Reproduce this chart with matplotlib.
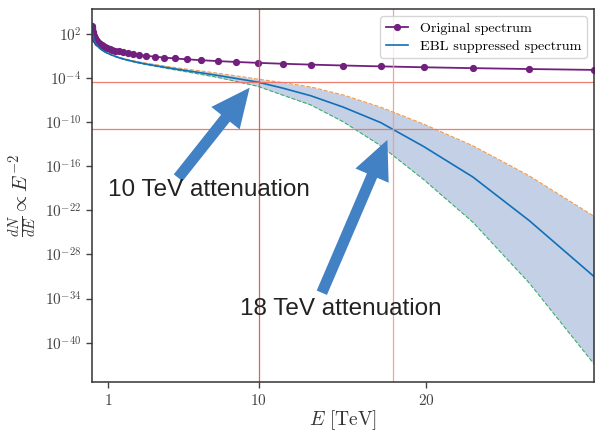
import matplotlib
matplotlib.use("Agg")
import matplotlib.pyplot as plt
import numpy as np

plt.rcParams["mathtext.fontset"] = "cm"
plt.rcParams["axes.unicode_minus"] = False

# energies [TeV], log-spaced grid of the spectrum
energy = [0.0300, 0.0344, 0.0395, 0.0454, 0.0521, 0.0599, 0.0687, 0.0789,
          0.0906, 0.1040, 0.1194, 0.1371, 0.1574, 0.1808, 0.2076, 0.2383,
          0.2736, 0.3142, 0.3607, 0.4142, 0.4755, 0.5460, 0.6269, 0.7198,
          0.8265, 0.9489, 1.0895, 1.2510, 1.4363, 1.6491, 1.8934, 2.1740,
          2.4961, 2.8659, 3.2906, 3.7781, 4.3379, 4.9806, 5.7186, 6.5659,
          7.5387, 8.6556, 9.9381, 11.411, 13.101, 15.042, 17.271, 19.830,
          22.768, 26.141, 30.000]

# log10 of dN/dE
log_original = [3.12, 3.00, 2.88, 2.76, 2.64, 2.52, 2.40, 2.28, 2.16, 2.04,
                1.92, 1.80, 1.68, 1.56, 1.44, 1.32, 1.20, 1.08, 0.96, 0.84,
                0.72, 0.60, 0.48, 0.36, 0.24, 0.12, 0.00, -0.12, -0.24, -0.36,
                -0.48, -0.60, -0.72, -0.84, -0.96, -1.08, -1.20, -1.32, -1.44,
                -1.56, -1.68, -1.80, -1.92, -2.04, -2.16, -2.28, -2.40, -2.52,
                -2.64, -2.76, -2.88]

log_suppressed = [3.12, 2.98, 2.84, 2.69, 2.54, 2.39, 2.23, 2.07, 1.91, 1.75,
                  1.59, 1.44, 1.29, 1.14, 0.99, 0.84, 0.69, 0.54, 0.40, 0.26,
                  0.12, -0.02, -0.16, -0.30, -0.44, -0.58, -0.72, -0.88, -1.04,
                  -1.21, -1.38, -1.55, -1.72, -1.90, -2.09, -2.28, -2.50, -2.74,
                  -2.99, -3.28, -3.63, -4.05, -4.54, -5.35, -6.40, -7.95,
                  -10.05, -13.3, -17.45, -23.4, -31.0]

log_upper = [3.12, 2.98, 2.84, 2.69, 2.54, 2.39, 2.23, 2.07, 1.91, 1.75,
             1.59, 1.44, 1.30, 1.15, 1.00, 0.85, 0.71, 0.56, 0.42, 0.28,
             0.15, 0.01, -0.13, -0.27, -0.40, -0.54, -0.67, -0.83, -0.98,
             -1.14, -1.30, -1.46, -1.62, -1.79, -1.97, -2.14, -2.34, -2.56,
             -2.79, -3.03, -3.33, -3.70, -4.13, -4.60, -5.20, -6.30, -7.95,
             -10.25, -13.2, -17.3, -22.8]

log_lower = [3.12, 2.98, 2.84, 2.69, 2.54, 2.39, 2.23, 2.07, 1.91, 1.75,
             1.59, 1.44, 1.28, 1.13, 0.98, 0.83, 0.67, 0.52, 0.38, 0.24,
             0.09, -0.05, -0.19, -0.33, -0.48, -0.62, -0.77, -0.93, -1.09,
             -1.26, -1.43, -1.60, -1.78, -1.97, -2.17, -2.37, -2.61, -2.87,
             -3.15, -3.50, -3.90, -4.45, -5.12, -6.30, -7.65, -9.95, -13.2,
             -17.8, -23.6, -31.9, -42.9]

# attenuation markers
att_energy = [10, 18]
att_log_level = [-4.55, -10.95]
att_labels = ["10 TeV attenuation", "18 TeV attenuation"]

ytick_exp = [2, -4, -10, -16, -22, -28, -34, -40]
xticks = [1, 10, 20]

E = np.array(energy)
orig = 10.0 ** np.array(log_original)
supp = 10.0 ** np.array(log_suppressed)
upper = 10.0 ** np.array(log_upper)
lower = 10.0 ** np.array(log_lower)

fig = plt.figure(figsize=(6, 4.32), dpi=100)
ax = fig.add_axes([0.153, 0.115, 0.837, 0.864])

ax.fill_between(E, lower, upper, color="#4c72b0", alpha=0.33, lw=0)
ax.plot(E, upper, color="#f39a4a", lw=0.8, ls="--")
ax.plot(E, lower, color="#3cae6e", lw=0.8, ls="--")
ax.plot(E, orig, color="#72207e", marker="o", markersize=4.2, lw=1.3,
        label="Original spectrum")
ax.plot(E, supp, color="#1170b8", lw=1.2, label="EBL suppressed spectrum")

for lvl in att_log_level:
    ax.axhline(10.0 ** lvl, color="#ee7060", lw=0.9, alpha=0.9)
ax.axvline(att_energy[0], color="#d85545", lw=0.9, alpha=0.9)
ax.axvline(att_energy[1], color="#f09a8c", lw=0.9, alpha=0.9)

ax.set_yscale("log")
ax.set_xlim(E.min(), E.max())
ax.set_ylim(10.0 ** -45.4, 10.0 ** 5.4)
ax.set_yticks([10.0 ** p for p in ytick_exp])
ax.set_yticklabels([r"$10^{%d}$" % p for p in ytick_exp])
ax.yaxis.set_minor_locator(matplotlib.ticker.NullLocator())
ax.set_xticks(xticks)
ax.set_xticklabels([r"$%d$" % t for t in xticks])
ax.tick_params(labelsize=11, colors="#444444", length=4, width=1)
for sp in ax.spines.values():
    sp.set_color("#333333")
    sp.set_linewidth(1.1)

ax.set_xlabel(r"$E\ [\mathrm{TeV}]$", fontsize=14, color="#333333",
              labelpad=0)
ax.set_ylabel(r"$\frac{dN}{dE} \propto E^{-2}$", fontsize=15, color="#333333")

leg = ax.legend(loc="upper right", prop={"family": "cmr10", "size": 10.2},
                fancybox=True, framealpha=0.8, edgecolor="#cccccc",
                borderpad=0.4, handlelength=1.6, labelspacing=0.35,
                handletextpad=0.8)

# arrows pointing at the attenuation crossings
arrow_kw = dict(facecolor="#4281c4", edgecolor="none", width=8,
                headwidth=26, headlength=28, shrink=0.0)
ax.annotate("", xy=(9.45, 10.0 ** -5.3), xytext=(0.172, 0.548),
            textcoords="axes fraction", arrowprops=arrow_kw)
ax.annotate("", xy=(17.67, 10.0 ** -12.4), xytext=(0.458, 0.24),
            textcoords="axes fraction", arrowprops=arrow_kw)

ax.text(0.032, 0.515, att_labels[0], transform=ax.transAxes,
        family="Liberation Sans", fontsize=17.5, color="#222222", va="center")
ax.text(0.295, 0.196, att_labels[1], transform=ax.transAxes,
        family="Liberation Sans", fontsize=17.5, color="#222222", va="center")

fig.savefig("out.png", dpi=100)
